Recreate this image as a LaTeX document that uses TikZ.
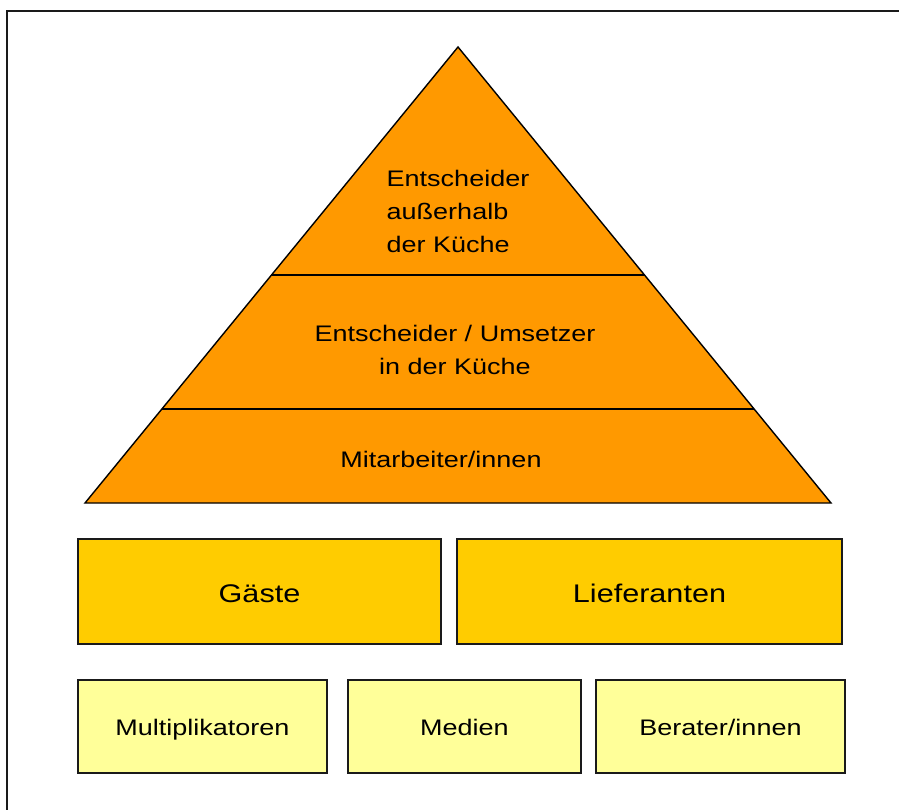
\documentclass[tikz,border=0pt]{standalone}
\usepackage{fontspec}
\setmainfont{Liberation Sans}[FakeStretch=1.2]
\usetikzlibrary{calc}
\definecolor{pyr}{HTML}{FF9900}
\definecolor{gold}{HTML}{FFCC00}
\definecolor{pale}{HTML}{FFFF99}
\definecolor{edge}{HTML}{1A1A1A}
\begin{document}
\begin{tikzpicture}[x=1pt,y=-1pt,
  frame/.style={draw=edge,line width=2pt},
  pyrline/.style={draw=black,line width=1.4pt},
  layertext/.style={font=\fontsize{22.5}{33}\selectfont,inner sep=0pt},
  boxbase/.style={draw=edge,line width=1.8pt,inner sep=0pt,anchor=center},
  bigbox/.style={boxbase,fill=gold,minimum height=105pt,text height=23pt,text depth=2pt,font=\fontsize{25.5}{30}\selectfont},
  smallbox/.style={boxbase,fill=pale,minimum height=93pt,text height=20pt,text depth=3pt,font=\fontsize{22.5}{26}\selectfont}]
\useasboundingbox (0,0) rectangle (899,810);
\fill[white] (0,0) rectangle (899,810);
\draw[frame] (7,11) rectangle (912,822);
% pyramid
\coordinate (apex) at (458,47);
\coordinate (bl) at (85,503);
\coordinate (br) at (831,503);
\coordinate (l1) at ($(apex)!0.5!(bl)$);
\coordinate (r1) at ($(apex)!0.5!(br)$);
\coordinate (l2) at ($(apex)!0.7939!(bl)$);
\coordinate (r2) at ($(apex)!0.7939!(br)$);
\filldraw[pyrline,fill=pyr,line join=miter] (apex) -- (bl) -- (br) -- cycle;
\draw[pyrline] (l1) -- (r1);
\draw[pyrline] (l2) -- (r2);
\node[layertext,align=left] (top) at (458,211) {Entscheider\\außerhalb\\der Küche};
\node[layertext,align=center] (mid) at (455,350) {Entscheider / Umsetzer\\in der Küche};
\node[layertext] (bot) at (441,459) {Mitarbeiter/innen};
% boxes
\node[bigbox,minimum width=363pt] (gaeste) at (259.5,591.5) {Gäste};
\node[bigbox,minimum width=385pt] (lief) at (649.5,591.5) {Lieferanten};
\node[smallbox,minimum width=249pt] (multi) at (202.5,726.5) {Multiplikatoren};
\node[smallbox,minimum width=233pt] (medien) at (464.5,726.5) {Medien};
\node[smallbox,minimum width=249pt] (berater) at (720.5,726.5) {Berater/innen};
\end{tikzpicture}
\end{document}
